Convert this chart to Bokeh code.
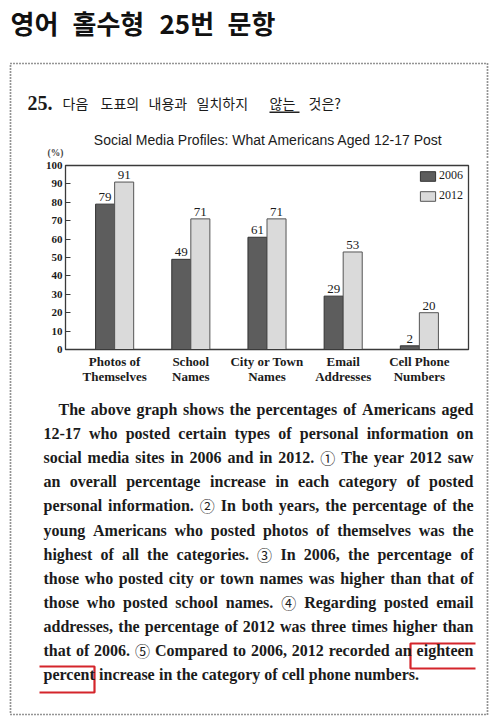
from bokeh.plotting import figure
from bokeh.layouts import column, row
from bokeh.models import (FactorRange, Range1d, FixedTicker, Label, ColumnDataSource)
from bokeh.transform import dodge
from bokeh.core.properties import value
from bokeh.embed import file_html
from bokeh.resources import INLINE

# ---------------- data ----------------
categories = ["Photos of\nThemselves", "School\nNames", "City or Town\nNames",
              "Email\nAddresses", "Cell Phone\nNumbers"]
years = ["2006", "2012"]
values_2006 = [79, 49, 61, 29, 2]
values_2012 = [91, 71, 71, 53, 20]
y_ticks = [0, 10, 20, 30, 40, 50, 60, 70, 80, 90, 100]

page_title_words = ["영어", "홀수형", "25번", "문항"]
question_number = "25."
question_words = ["다음", "도표의", "내용과", "일치하지", "않는", "것은?"]
chart_title = "Social Media Profiles: What Americans Aged 12-17 Post"
unit_label = "(%)"
paragraph_lines = [
    "The above graph shows the percentages of Americans aged",
    "12-17 who posted certain types of personal information on",
    "social media sites in 2006 and in 2012. ① The year 2012 saw",
    "an overall percentage increase in each category of posted",
    "personal information. ② In both years, the percentage of the",
    "young Americans who posted photos of themselves was the",
    "highest of all the categories. ③ In 2006, the percentage of",
    "those who posted city or town names was higher than that of",
    "those who posted school names. ④ Regarding posted email",
    "addresses, the percentage of 2012 was three times higher than",
    "that of 2006. ⑤ Compared to 2006, 2012 recorded an eighteen",
    "percent increase in the category of cell phone numbers.",
]

# ---------------- page geometry (pixels) ----------------
W, H = 500, 723
HEAD_H = 159                 # header strip
CHART_B = 390                # bottom of chart strip
FL, FR, FT, FB = 65, 468, 165, 349   # chart frame
BOX_L, BOX_R, BOX_T, BOX_B = 10, 487, 63, 714

SERIF = "Liberation Serif"
SANS = "Liberation Sans"
KR = "Noto Sans CJK KR"
INK = "#1b1b1b"
DOT = "#2a2a2a"
RED = "#d4252b"

# Times/Liberation Serif Bold advance widths (per 1000 em)
TB = {
    'a': 500, 'b': 556, 'c': 444, 'd': 556, 'e': 444, 'f': 333, 'g': 500, 'h': 556,
    'i': 278, 'j': 333, 'k': 556, 'l': 278, 'm': 833, 'n': 556, 'o': 500, 'p': 556,
    'q': 556, 'r': 444, 's': 389, 't': 333, 'u': 556, 'v': 500, 'w': 722, 'x': 500,
    'y': 500, 'z': 444, 'A': 722, 'B': 667, 'C': 722, 'D': 722, 'E': 667, 'F': 611,
    'G': 778, 'H': 778, 'I': 389, 'J': 500, 'K': 778, 'L': 667, 'M': 944, 'N': 722,
    'O': 778, 'P': 611, 'Q': 778, 'R': 722, 'S': 556, 'T': 667, 'U': 722, 'V': 722,
    'W': 1000, 'X': 722, 'Y': 722, 'Z': 667, '.': 250, ',': 250, '-': 333, '?': 500,
}
CIRCLED = "①②③④⑤"


def deco_fig(x0, x1, y0, y1, alpha=1.0):
    f = figure(width=x1 - x0, height=y1 - y0, x_range=Range1d(x0, x1),
               y_range=Range1d(y1, y0), min_border=0, title=None,
               toolbar_location=None, output_backend="svg",
               x_axis_type=None, y_axis_type=None,
               background_fill_color="white", border_fill_color="white",
               background_fill_alpha=alpha, border_fill_alpha=alpha)
    f.outline_line_color = None
    return f


def dotted(f, xs, ys):
    f.line(xs, ys, line_color=DOT, line_width=1.7, line_dash="1 2")


def label(f, text, X, Y, font, size, style="normal", align="left", color=INK):
    # Y is the visual middle height of the text on the page
    f.add_layout(Label(text=text, x=X, y=Y, text_font=font,
                       text_font_size=f"{size}px", text_font_style=style,
                       text_align=align, text_baseline="alphabetic",
                       text_color=color))


# ---------------- header ----------------
head = deco_fig(0, W, 0, HEAD_H)
for w, X in zip(page_title_words, [10, 72, 159, 227]):
    label(head, w, X, 22, KR, 26, "bold", color="#111111")
dotted(head, [BOX_L, BOX_L, BOX_R, BOX_R], [HEAD_H, BOX_T, BOX_T, HEAD_H])
label(head, question_number, 27, 102, SERIF, 20, "bold")
for w, X in zip(question_words, [62, 100, 148, 196, 269, 308]):
    label(head, w, X, 102, KR, 14)
head.quad(left=[269], right=[299], top=[111], bottom=[112.4], fill_color="#222222",
          line_color=None)
label(head, chart_title, 268, 139, SANS, 14, align="center")
label(head, unit_label, 55, 152, SERIF, 9.5, "bold", align="center", color="#444444")

# ---------------- chart ----------------
src = ColumnDataSource(dict(
    cat=categories, v2006=values_2006, v2012=values_2012,
    t2006=[str(v) for v in values_2006], t2012=[str(v) for v in values_2012]))

p = figure(x_range=FactorRange(factors=categories, range_padding=0.058),
           y_range=Range1d(0, 100), width=W, height=CHART_B - HEAD_H,
           min_border_left=FL, min_border_right=W - FR,
           min_border_top=FT - HEAD_H, min_border_bottom=CHART_B - FB, title=None,
           toolbar_location=None, output_backend="svg",
           background_fill_color="white", border_fill_color="white")

p.xgrid.visible = False
p.ygrid.visible = False
p.outline_line_color = "#3a3a3a"
p.outline_line_width = 1.3

p.yaxis.ticker = FixedTicker(ticks=y_ticks)
p.yaxis.minor_tick_line_color = None
p.yaxis.major_tick_in = 5
p.yaxis.major_tick_out = 0
p.yaxis.major_tick_line_color = "#3a3a3a"
p.yaxis.axis_line_color = "#3a3a3a"
p.yaxis.major_label_standoff = 3
p.yaxis.major_label_text_font = SERIF
p.yaxis.major_label_text_font_style = "bold"
p.yaxis.major_label_text_font_size = "11px"
p.yaxis.major_label_text_color = INK

p.xaxis.major_tick_in = 0
p.xaxis.major_tick_out = 0
p.xaxis.axis_line_color = "#3a3a3a"
p.xaxis.major_label_standoff = 4
p.xaxis.major_label_text_font = SERIF
p.xaxis.major_label_text_font_style = "bold"
p.xaxis.major_label_text_font_size = "13px"
p.xaxis.major_label_text_color = INK
p.xaxis.major_label_text_line_height = 1.0

p.vbar(x=dodge("cat", -0.125, range=p.x_range), top="v2006", width=0.25, source=src,
       fill_color="#5d5d5d", line_color="#333333", line_width=1, legend_label=years[0])
p.vbar(x=dodge("cat", 0.125, range=p.x_range), top="v2012", width=0.25, source=src,
       fill_color="#dadada", line_color="#555555", line_width=1, legend_label=years[1])

for off, col in [(-0.125, "t2006"), (0.125, "t2012")]:
    p.text(x=dodge("cat", off, range=p.x_range), y=col.replace("t", "v"), text=col,
           source=src, text_align="center", text_baseline="bottom", y_offset=-3,
           text_font=value(SERIF), text_font_size="13px", text_color=INK)

lg = p.legend[0]
lg.location = (353, 146)
lg.border_line_alpha = 0
lg.background_fill_alpha = 0
lg.padding = 0
lg.margin = 0
lg.spacing = 5
lg.glyph_width = 19
lg.glyph_height = 12
lg.label_height = 12
lg.label_standoff = 2
lg.label_text_font = SERIF
lg.label_text_font_size = "12px"
lg.label_text_color = INK

# ------- paragraph + frame sides (transparent layer over the chart's margins) -------
body = deco_fig(0, W, HEAD_H, H, alpha=0)
body.margin = (-(CHART_B - HEAD_H), 0, 0, 0)
dotted(body, [BOX_L, BOX_L, BOX_R, BOX_R], [HEAD_H, BOX_B, BOX_B, HEAD_H])


def word_width(word, fs):
    if word in CIRCLED:
        return fs * 0.95
    return sum(TB.get(ch, 500) for ch in word) * fs / 1000.0


FS = 16
LEFT, RIGHT = 43, 473
for i, line in enumerate(paragraph_lines):
    Y = 409 + i * 24.1
    x0 = 58 if i == 0 else LEFT
    words = line.split(" ")
    widths = [word_width(w, FS) for w in words]
    if i == len(paragraph_lines) - 1:
        gap = 0.25 * FS
    else:
        gap = (RIGHT - x0 - sum(widths)) / (len(words) - 1)
    x = x0
    for w, wd in zip(words, widths):
        if w in CIRCLED:
            label(body, w, x, Y, KR, 15)
        else:
            label(body, w, x, Y, SERIF, FS, "bold")
        x += wd + gap

# red markers (open brackets)
body.line([475, 410, 410, 475], [643, 643, 668, 668], line_color=RED, line_width=2.2)
body.line([39, 94, 94, 39], [666, 666, 692, 692], line_color=RED, line_width=2.2)

# the chart is wrapped in a row so that its frame is not aligned with the others
layout = column(head, row(p), body)
open("out.html", "w").write(file_html(layout, INLINE))
